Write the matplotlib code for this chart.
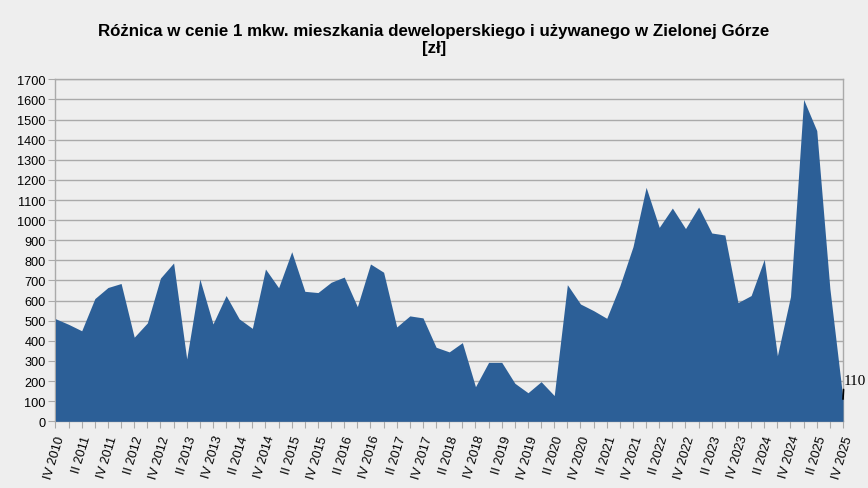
import matplotlib.pyplot as plt
import numpy as np

plt.rcParams['font.family'] = ['Liberation Sans', 'DejaVu Sans']

# --------------------------------------------
# Data
# --------------------------------------------

title = ("Różnica w cenie 1 mkw. mieszkania deweloperskiego i używanego w Zielonej Górze\n"
         "[zł]")

# every quarter from IV 2010 to IV 2025
price_gap = [510, 482, 450, 610, 665, 685, 418, 489, 712, 787,
             310, 707, 484, 625, 509, 462, 757, 664, 843, 646,
             640, 691, 717, 570, 782, 741, 469, 524, 514, 368,
             345, 391, 172, 293, 293, 189, 142, 197, 128, 679,
             583, 550, 512, 674, 868, 1163, 964, 1060, 958, 1065,
             936, 926, 590, 625, 805, 326, 620, 1600, 1445, 660,
             110]

# labels shown on every second quarter
tick_labels = ["IV 2010", "II 2011", "IV 2011", "II 2012", "IV 2012", "II 2013",
               "IV 2013", "II 2014", "IV 2014", "II 2015", "IV 2015", "II 2016",
               "IV 2016", "II 2017", "IV 2017", "II 2018", "IV 2018", "II 2019",
               "IV 2019", "II 2020", "IV 2020", "II 2021", "IV 2021", "II 2022",
               "IV 2022", "II 2023", "IV 2023", "II 2024", "IV 2024", "II 2025",
               "IV 2025"]

# --------------------------------------------
# Figure
# --------------------------------------------

bg = "#EEEEEE"
fill_color = "#2C5F97"
grid_color = "#AAAAAA"

fig = plt.figure(figsize=(8.68, 4.89), dpi=100, facecolor=bg)
ax = fig.add_axes([0.0639, 0.1364, 0.9073, 0.6994])
ax.set_facecolor(bg)

x = np.arange(len(price_gap))
ax.fill_between(x, 0, price_gap, color=fill_color, linewidth=0, zorder=3)

ax.set_xlim(0, len(price_gap) - 1)
ax.set_ylim(0, 1700)
ax.set_yticks(range(0, 1701, 100))
ax.yaxis.grid(True, color=grid_color, linewidth=1)
ax.set_axisbelow(True)

labels_all = []
for i in range(len(price_gap)):
    if i % 2 == 0:
        labels_all.append(tick_labels[i // 2])
    else:
        labels_all.append("")
ax.set_xticks(x)
ax.set_xticklabels(labels_all, rotation=73, ha="right", rotation_mode="anchor",
                   fontsize=9.2)

ax.tick_params(axis="y", labelsize=9.2, length=5, color=grid_color, pad=2)
ax.tick_params(axis="x", length=5, color=grid_color, pad=4)

for side in ["left", "bottom", "right", "top"]:
    ax.spines[side].set_color(grid_color)
    ax.spines[side].set_linewidth(1)

# last value label with a short vertical leader
last = len(price_gap) - 1
ax.annotate(str(price_gap[last]), xy=(last, price_gap[last]),
            xytext=(0.5, 9), textcoords="offset points",
            ha="left", va="bottom", fontsize=11, color="black",
            family="Liberation Serif",
            arrowprops=dict(arrowstyle="-", color="black", linewidth=1.2,
                            shrinkA=0, shrinkB=0, relpos=(0, 0)),
            annotation_clip=False, zorder=5)

fig.text(0.5, 0.951, title, ha="center", va="top", fontsize=12.2,
         fontweight="bold", linespacing=1.2)

plt.savefig("out.png", dpi=100, facecolor=bg)
